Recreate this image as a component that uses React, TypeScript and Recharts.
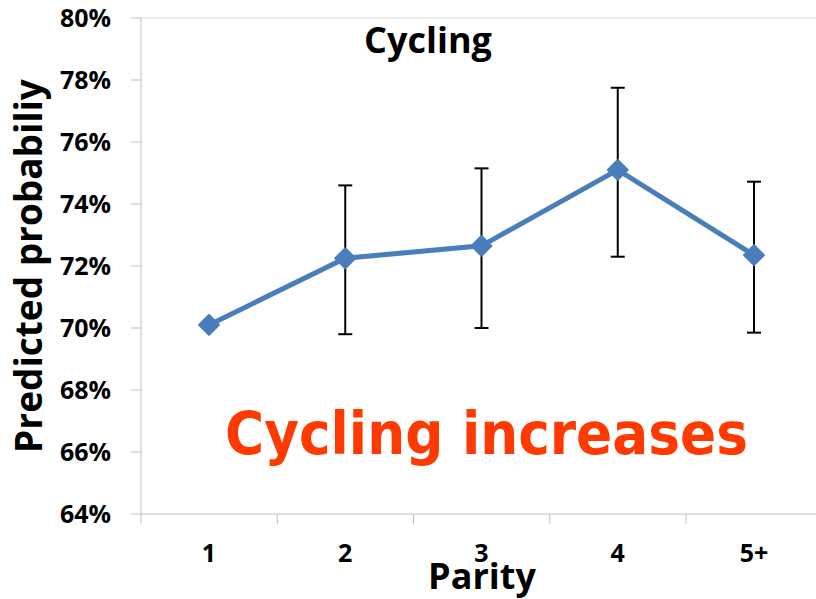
import React from 'react';
import { LineChart, Line, XAxis, YAxis, ErrorBar, ReferenceLine } from 'recharts';

const categories = ['1', '2', '3', '4', '5+'];
const predicted = [70.1, 72.25, 72.65, 75.1, 72.35];
const ciLower: (number | null)[] = [null, 69.8, 70.0, 72.3, 69.85];
const ciUpper: (number | null)[] = [null, 74.6, 75.15, 77.75, 74.72];
const yTicks = [64, 66, 68, 70, 72, 74, 76, 78, 80];

const data = categories.map((c, i) => ({
  parity: c,
  p: predicted[i],
  err:
    ciLower[i] == null || ciUpper[i] == null
      ? null
      : [predicted[i] - (ciLower[i] as number), (ciUpper[i] as number) - predicted[i]],
}));

const FONT = '"Open Sans", "Liberation Sans", sans-serif';
const BLUE = '#4a7ebb';
const AXIS = '#bfbfbf';

const Diamond = (props: any) => {
  const { cx, cy } = props;
  if (cx == null || cy == null) return null;
  const r = 10;
  return (
    <path
      d={`M${cx},${cy - r}L${cx + r},${cy}L${cx},${cy + r}L${cx - r},${cy}Z`}
      fill={BLUE}
      stroke={BLUE}
      strokeWidth={2}
      strokeLinejoin="round"
    />
  );
};

const XTick = (props: any) => {
  const { x, y, payload } = props;
  return (
    <g>
      <line x1={x - 68} x2={x - 68} y1={y} y2={y + 10} stroke={AXIS} strokeWidth={1} />
      <text
        x={x}
        y={y + 30}
        dy="0.71em"
        textAnchor="middle"
        fill="#000"
        fontFamily={FONT}
        fontWeight={700}
        fontSize={25}
      >
        {payload.value}
      </text>
    </g>
  );
};

export default function App() {
  return (
    <div style={{ position: 'absolute', left: 0, top: 0, width: 816, height: 599, overflow: 'hidden', background: '#fff' }}>
      <LineChart width={830} height={599} data={data} margin={{ top: 18, right: 8, bottom: 55, left: 0 }}>
        <ReferenceLine y={80} stroke="#d9d9d9" strokeWidth={1} />
        <XAxis
          dataKey="parity"
          height={30}
          padding={{ left: 68, right: 68 }}
          axisLine={{ stroke: AXIS }}
          tickLine={false}
          tickSize={0}
          tickMargin={0}
          tick={<XTick />}
          interval={0}
        />
        <YAxis
          width={141}
          domain={[64, 80]}
          ticks={yTicks}
          interval={0}
          tickFormatter={(v: number) => `${v}%`}
          axisLine={{ stroke: AXIS }}
          tickLine={{ stroke: AXIS }}
          tickSize={10}
          tickMargin={20}
          tick={{ fill: '#000', fontFamily: FONT, fontWeight: 700, fontSize: 25 }}
        />
        <Line
          type="linear"
          dataKey="p"
          stroke={BLUE}
          strokeWidth={5}
          dot={<Diamond />}
          activeDot={false}
          isAnimationActive={false}
        >
          <ErrorBar dataKey="err" width={7} stroke="#000" strokeWidth={2} direction="y" />
        </Line>
      </LineChart>
      <svg
        width={816}
        height={599}
        style={{ position: 'absolute', left: 0, top: 0, pointerEvents: 'none' }}
      >
        <text
          x={428}
          y={53}
          textAnchor="middle"
          fontFamily={FONT}
          fontWeight={700}
          fontSize={36}
          fill="#000"
        >
          Cycling
        </text>
        <text
          x={482}
          y={589}
          textAnchor="middle"
          fontFamily={FONT}
          fontWeight={700}
          fontSize={36}
          fill="#000"
        >
          Parity
        </text>
        <text
          transform="translate(42,266) rotate(-90)"
          textAnchor="middle"
          fontFamily={FONT}
          fontWeight={700}
          fontSize={37}
          fill="#000"
        >
          Predicted probabiliy
        </text>
        <text
          x={225}
          y={454}
          fontFamily='"DejaVu Sans", sans-serif'
          fontWeight={700}
          fontSize={58}
          fill="#ff3a00"
          textLength={523}
          lengthAdjust="spacingAndGlyphs"
        >
          Cycling increases
        </text>
      </svg>
    </div>
  );
}
